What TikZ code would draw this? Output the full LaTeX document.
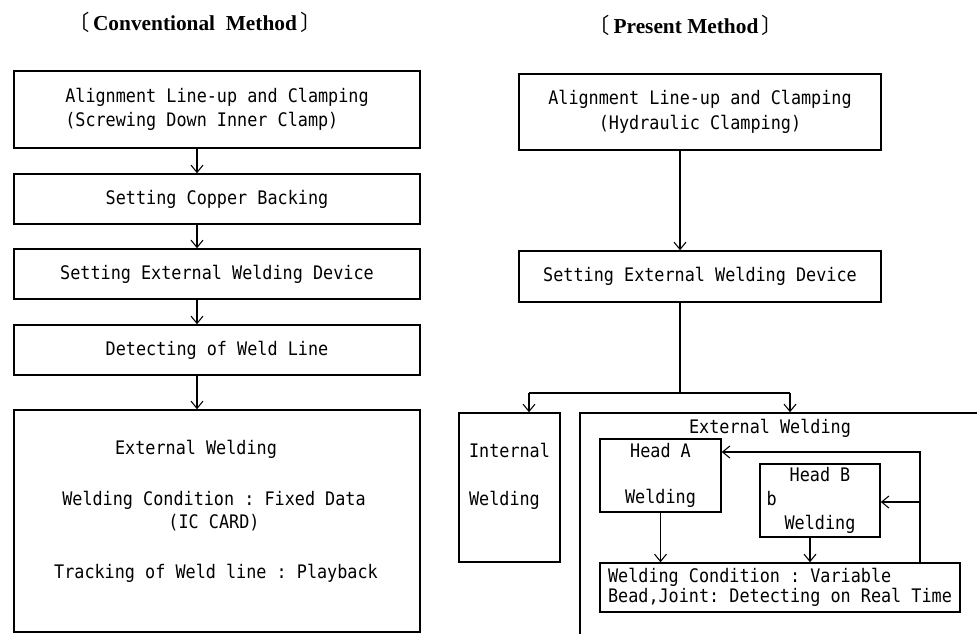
\documentclass[tikz,border=0pt]{standalone}
\usepackage{fontspec}
\setmainfont{Liberation Serif}
\setmonofont[FakeStretch=0.9]{DejaVu Sans Mono}
\newfontfamily\cjk{Noto Sans CJK JP}
\usetikzlibrary{arrows.meta}

\newcommand{\flowfont}{\ttfamily\fontsize{14}{16}\selectfont}
\newcommand{\titlefont}{\bfseries\fontsize{16}{19}\selectfont}
\tikzset{
  box/.style={draw, line width=1.1pt, inner sep=0pt, font=\flowfont},
  txt/.style={inner sep=0pt, font=\flowfont},
  flow/.style={-{Straight Barb[length=5.5pt,width=9pt]}, line width=0.8pt},
  plain/.style={line width=0.8pt},
}

\begin{document}
\begin{tikzpicture}[x=0.75pt, y=-0.75pt]
  \useasboundingbox (0,0) rectangle (977,634);

  % titles
  \node[font=\titlefont] (tconv) at (195,22)
    {{\cjk\mdseries 〔}\,Conventional\ \ Method\,{\cjk\mdseries 〕}};
  \node[font=\titlefont] (tpres) at (686,25)
    {{\cjk\mdseries 〔}\,Present Method\,{\cjk\mdseries 〕}};

  % conventional method
  \node[box, minimum width=304.5pt, minimum height=57.75pt, align=left] (c1) at (217,109.5)
    {Alignment Line-up and Clamping\\[2.4pt](Screwing Down Inner Clamp)};
  \node[box, minimum width=304.5pt, minimum height=37.5pt] (c2) at (217,199)
    {Setting Copper Backing};
  \node[box, minimum width=304.5pt, minimum height=37.5pt] (c3) at (217,274)
    {Setting External Welding Device};
  \node[box, minimum width=304.5pt, minimum height=37.5pt] (c4) at (217,350)
    {Detecting of Weld Line};
  \node[box, minimum width=304.5pt, minimum height=166.5pt] (c5) at (217,521) {};
  \node[txt] (c5a) at (196,449) {External Welding};
  \node[txt, align=center] (c5b) at (214,511)
    {Welding Condition : Fixed Data\\[1pt](IC CARD)};
  \node[txt] (c5c) at (216,573) {Tracking of Weld line : Playback};

  \coordinate (lspine) at (197,0);
  \draw[flow] (c1.south -| lspine) -- (c2.north -| lspine);
  \draw[flow] (c2.south -| lspine) -- (c3.north -| lspine);
  \draw[flow] (c3.south -| lspine) -- (c4.north -| lspine);
  \draw[flow] (c4.south -| lspine) -- (c5.north -| lspine);

  % present method
  \node[box, minimum width=271.5pt, minimum height=57pt, align=center] (p1) at (700,112)
    {Alignment Line-up and Clamping\\[2.4pt](Hydraulic Clamping)};
  \node[box, minimum width=271.5pt, minimum height=38.25pt] (p2) at (700,276.5)
    {Setting External Welding Device};
  \node[box, minimum width=75.75pt, minimum height=111.75pt] (pin) at (509.5,487.5) {};
  \node[txt, align=left] (pint) at (509.5,476) {Internal\\[20pt]Welding};
  \node[box, minimum width=315pt, minimum height=177.75pt] (pex) at (790,531.5) {};
  \node[txt] (pext) at (770,428) {External Welding};
  \node[box, minimum width=90.75pt, minimum height=54.75pt, align=center] (ha) at (660.5,475.5)
    {Head A\\[19pt]Welding};
  \node[box, minimum width=90pt, minimum height=54.75pt, align=center] (hb) at (820,500.5)
    {Head B\\[2pt]\makebox[80pt][l]{b}\\[2pt]Welding};
  \node[box, minimum width=270pt, minimum height=36.75pt, align=left,
        font=\ttfamily\fontsize{14}{13.5}\selectfont] (cond) at (780,587.5)
    {Welding Condition : Variable\\Bead,Joint: Detecting on Real Time};

  \coordinate (rspine) at (680,0);
  \coordinate (lbranch) at (529,393);
  \coordinate (rbranch) at (790,393);
  \draw[flow] (p1.south -| rspine) -- (p2.north -| rspine);
  \draw[plain] (p2.south -| rspine) -- (rspine |- lbranch);
  \draw[plain] (lbranch) -- (rbranch);
  \draw[flow] (lbranch) -- (lbranch |- pin.north);
  \draw[flow] (rbranch) -- (rbranch |- pex.north);

  % heads and feedback
  \coordinate (hbx) at (810,0);
  \coordinate (fbtop) at (920,452);
  \coordinate (fbmid) at (920,502);
  \draw[flow] (ha.south) -- (ha.south |- cond.north);
  \draw[flow] (hb.south -| hbx) -- (cond.north -| hbx);
  \draw[flow] (cond.north -| fbtop) -- (fbtop) -- (fbtop -| ha.east);
  \draw[flow] (fbmid) -- (fbmid -| hb.east);
\end{tikzpicture}
\end{document}
